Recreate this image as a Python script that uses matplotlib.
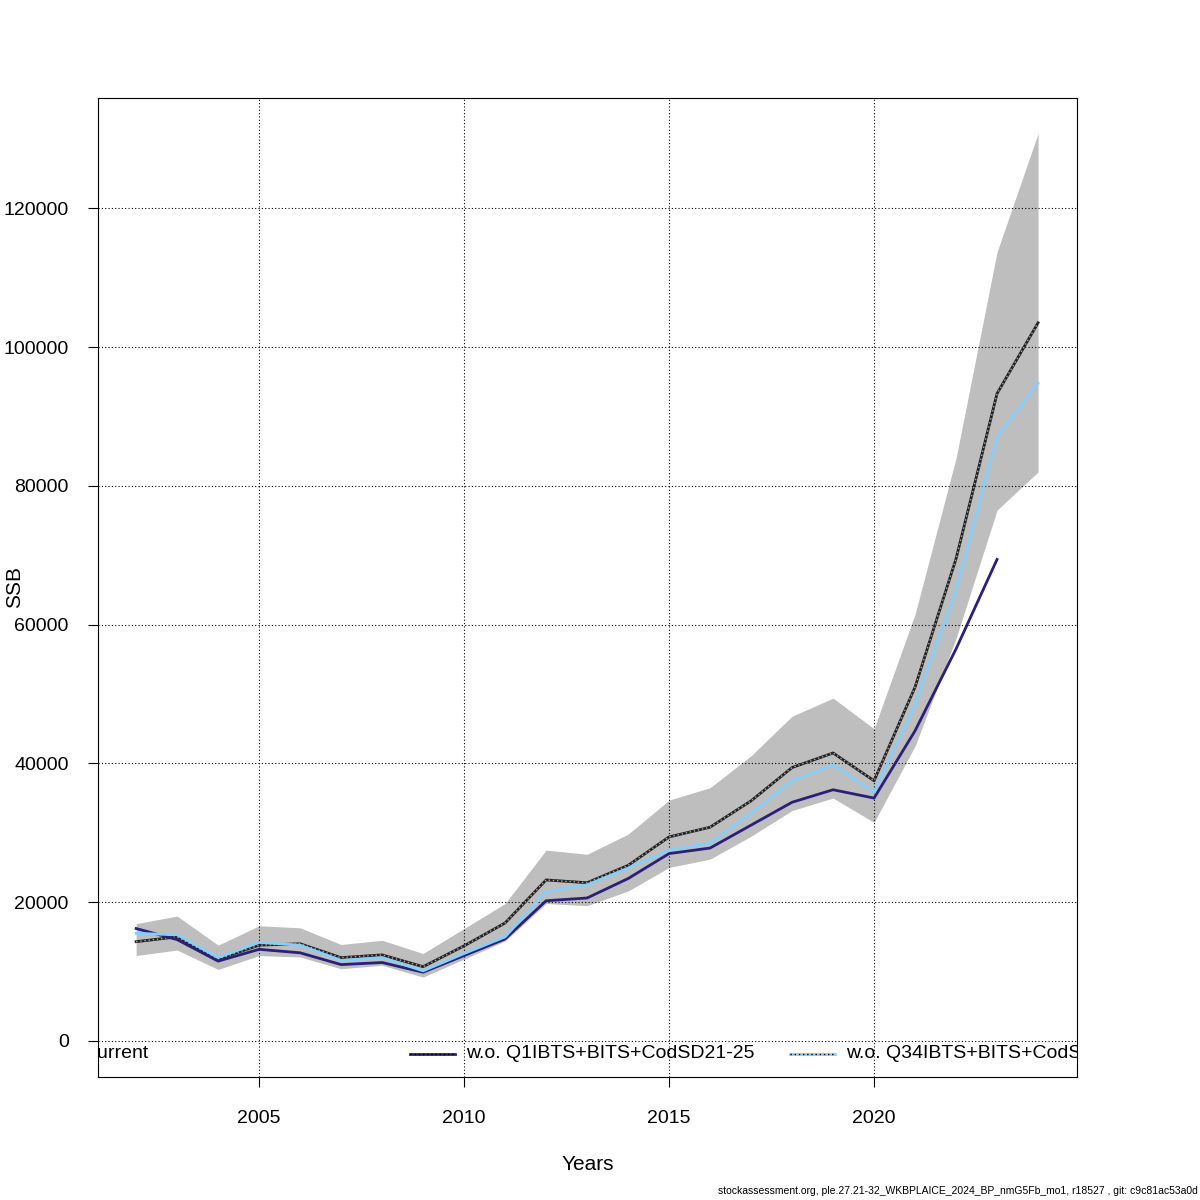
import matplotlib
matplotlib.use("Agg")
import matplotlib.pyplot as plt
from matplotlib.lines import Line2D

plt.rcParams['font.family'] = ['Liberation Sans', 'DejaVu Sans']

years = list(range(2002, 2025))
current = [14.3, 15.0, 11.8, 13.8, 14.0, 12.0, 12.4, 10.7, 13.7, 17.0, 23.2, 22.8, 25.3, 29.4, 30.8, 34.6, 39.4, 41.5, 37.5, 51.0, 69.5, 93.3, 103.5]
upper = [16.9, 18.0, 13.8, 16.6, 16.3, 13.9, 14.5, 12.6, 16.2, 19.8, 27.5, 26.9, 29.8, 34.7, 36.5, 41.1, 46.8, 49.4, 45.0, 61.5, 84.0, 113.7, 130.8]
lower = [12.3, 13.1, 10.3, 12.3, 12.1, 10.4, 10.9, 9.2, 11.8, 14.4, 19.8, 19.5, 21.6, 25.0, 26.2, 29.5, 33.2, 35.0, 31.5, 42.5, 58.0, 76.5, 82.0]
years_q1 = list(range(2002, 2024))
wo_q1 = [16.2, 14.6, 11.5, 13.2, 12.7, 11.0, 11.3, 9.9, 12.3, 14.7, 20.2, 20.6, 23.4, 27.0, 27.8, 31.1, 34.4, 36.2, 35.0, 44.7, 56.5, 69.4]
wo_q34 = [15.5, 15.3, 12.0, 14.2, 13.8, 11.6, 12.0, 10.1, 12.6, 15.0, 21.5, 22.5, 24.9, 27.5, 28.5, 32.8, 37.5, 39.8, 35.8, 48.5, 65.0, 87.0, 94.8]
labels = ["Current", "w.o. Q1IBTS+BITS+CodSD21-25", "w.o. Q34IBTS+BITS+CodSD21-25"]

k = lambda v: [x * 1000 for x in v]

fig = plt.figure(figsize=(12, 12), dpi=100)
ax = fig.add_axes([98/1200, 1-1077/1200, (1077-98)/1200, (1077-98)/1200])
ax.fill_between(years, k(lower), k(upper), color='#bebebe', lw=0)
ax.plot(years, k(current), color='#222222', lw=2)
ax.plot(years, k(current), color='#aaaaaa', lw=1, ls=(0, (1, 2)))
ax.plot(years_q1, k(wo_q1), color='#2b1f7a', lw=2)
ax.plot(years, k(wo_q34), color='#87cefa', lw=2)

ax.set_xlim(2001.07, 2024.95)
ax.set_ylim(-5200, 135900)
ax.set_xticks([2005, 2010, 2015, 2020])
ax.set_yticks(range(0, 120001, 20000))
ax.set_yticklabels([str(v) for v in range(0, 120001, 20000)])
ax.grid(True, color='black', ls=(0, (1, 2)), lw=0.8)
ax.tick_params(labelsize=14, length=7, direction='out')
ax.tick_params(axis='x', pad=17)
ax.tick_params(axis='y', pad=14)
for s in ax.spines.values():
    s.set_linewidth(0.8)
ax.set_xlabel("Years", fontsize=15, labelpad=20)
ax.set_ylabel("SSB", fontsize=15)
ax.yaxis.set_label_coords(-(98 - 24) / 979, 0.5)

# clipped legend row
ly = 1 - (1054 - 98) / (1077 - 98)
W = 1077 - 98
entries = [(27, '#222222', labels[0]), (410, '#2b1f7a', labels[1]), (790, '#87cefa', labels[2])]
for px, col, lab in entries:
    x0 = (px - 98) / W; x1 = (px + 45 - 98) / W
    ax.add_line(Line2D([x0, x1], [ly, ly], color=col, lw=2, transform=ax.transAxes, clip_on=True))
    ax.add_line(Line2D([x0, x1], [ly, ly], color='black' if col != '#222222' else '#aaaaaa', lw=1,
                       ls=(0, (1, 2)), transform=ax.transAxes, clip_on=True))
    ax.text((px + 56 - 98) / W, ly, lab, transform=ax.transAxes, fontsize=14, va='center', ha='left', clip_on=True)

fig.text(0.998, 0.003, "stockassessment.org, ple.27.21-32_WKBPLAICE_2024_BP_nmG5Fb_mo1, r18527 , git: c9c81ac53a0d",
         ha='right', va='bottom', fontsize=7.5)
fig.savefig("out.png", dpi=100)
